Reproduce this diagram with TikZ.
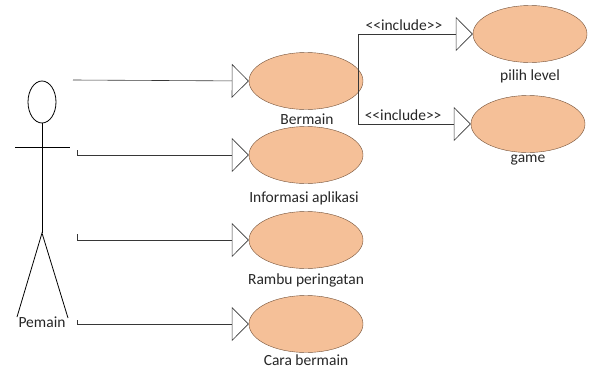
\documentclass[tikz,border=0pt]{standalone}
\usepackage{fontspec}
\setmainfont{Carlito}
\usepackage{xcolor}
\usetikzlibrary{arrows.meta,positioning,shapes.geometric}
\definecolor{ucfill}{RGB}{245,192,152}
\definecolor{ucline}{RGB}{115,80,55}
\definecolor{lnk}{RGB}{55,55,55}
\newcommand{\incl}{<\kern0pt<include>\kern0pt>}

\begin{document}
\begin{tikzpicture}[
  x=1pt,y=-1pt,
  uc/.style={ellipse,draw=ucline,fill=ucfill,minimum width=114pt,minimum height=57pt,inner sep=0pt},
  lbl/.style={font=\fontsize{15.5}{17}\selectfont,text=black!85,inner sep=0pt},
  ar/.style={-{Triangle[open,length=17pt,width=34pt]},lnk,semithick},
  stick/.style={draw=black,thick}
]
\useasboundingbox (0,0) rectangle (592,370);

% actor
\node[ellipse,stick,minimum width=28pt,minimum height=42pt,inner sep=0pt] (head) at (42,102) {};
\coordinate (hip) at (42,233);
\coordinate (armL) at (15,147);
\coordinate (armR) at (70,147);
\coordinate (footL) at (17,317);
\coordinate (footR) at (68,318);
\draw[stick] (head.south) -- (hip);
\draw[stick] (armL) -- (armR);
\draw[stick] (footL) -- (hip) -- (footR);
\node[lbl,fill=white,inner sep=1pt] (pemain) at (42,322) {Pemain};

% use cases
\node[uc] (bermain) at (306,81) {};
\node[uc] (info) at (306,155) {};
\node[uc] (rambu) at (306,240) {};
\node[uc] (cara) at (306,324) {};
\node[uc] (pilih) at (530,34) {};
\node[uc] (game) at (528,124) {};

\node[lbl] (lbermain) at (307,119) {Bermain};
\node[lbl] (linfo) at (304,198) {Informasi aplikasi};
\node[lbl] (lrambu) at (306,280) {Rambu peringatan};
\node[lbl] (lcara) at (306,360) {Cara bermain};
\node[lbl] (lpilih) at (530,76) {pilih level};
\node[lbl] (lgame) at (528,160) {game};

% associations
\coordinate (s1) at (73,80);
\coordinate (s2) at (77,150);
\coordinate (s3) at (77,234);
\coordinate (s4) at (77,320);
\draw[ar] (s1) -- (bermain.west);
\draw[ar] (s2) |- (info.west);
\draw[ar] (s3) |- (rambu.west);
\draw[ar] (s4) |- (cara.west);

% include
\coordinate (fork) at (358,81);
\draw[ar] (fork) |- node[lbl,pos=0.7,above=3pt] {\incl} (pilih.west);
\draw[ar] (fork) |- node[lbl,pos=0.7,above=3pt] {\incl} (game.west);
\end{tikzpicture}
\end{document}
